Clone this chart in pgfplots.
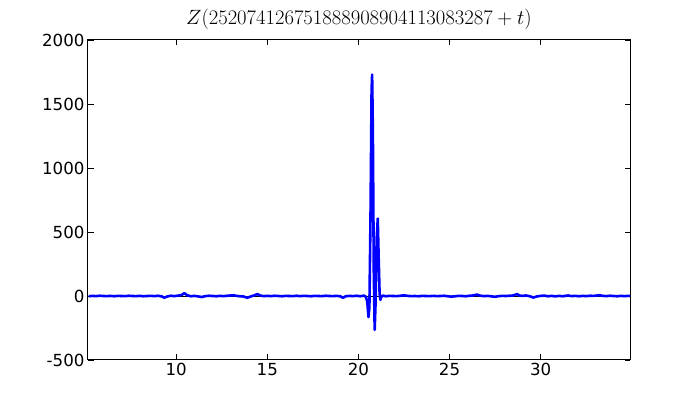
\documentclass[border=0pt]{standalone}
\usepackage{fontspec}
\setmainfont{DejaVu Sans}
\usepackage{pgfplots}
\pgfplotsset{compat=1.18}
\begin{document}
\begin{tikzpicture}
\begin{axis}[name=ax, scale only axis, width=542bp, height=320bp,
  xmin=5.16, xmax=34.9, ymin=-500, ymax=2000,
  xtick={10,15,20,25,30}, ytick={-500,0,500,1000,1500,2000},
  tick align=inside, major tick length=5.5bp,
  tick style={black, line width=0.8bp},
  axis line style={line width=1bp},
  xtick pos=both, ytick pos=both,
  ticklabel style={font=\fontsize{16.7}{20}\selectfont},
  /pgf/number format/assume math mode=true,
  /pgf/number format/set thousands separator={},
  title={$Z(252074126751888908904113083287+t)$},
  title style={font=\fontsize{19.8}{23}\selectfont, at={(0.5,1)}, anchor=south, yshift=1bp},
]
\addplot[black, line width=0.9bp] coordinates {(5.16,0) (34.9,0)};
\addplot[blue, line width=2.6bp, line join=round] coordinates {
(5.2,-2) (5.4,1) (5.6,-1) (5.8,2) (6.0,0) (6.2,-1) (6.4,1) (6.6,-2) (6.8,1) (7.0,0)
(7.2,-1) (7.4,2) (7.6,0) (7.8,-1) (8.0,1) (8.2,-2) (8.4,0) (8.6,1) (8.8,-1) (9.0,2)
(9.2,-3) (9.35,-13) (9.5,-4) (9.7,2) (9.9,-1) (10.1,3) (10.3,8) (10.45,22) (10.6,6) (10.8,-2)
(11.0,1) (11.2,-3) (11.4,-8) (11.6,-1) (11.8,2) (12.0,0) (12.2,-2) (12.4,1) (12.6,-1) (12.8,2)
(13.0,4) (13.15,6) (13.3,1) (13.5,-2) (13.7,-4) (13.9,-14) (14.1,-3) (14.3,5) (14.45,16) (14.6,4)
(14.8,-1) (15.0,1) (15.2,-1) (15.4,2) (15.6,0) (15.8,-2) (16.0,1) (16.2,0) (16.4,-1) (16.6,2)
(16.8,-1) (17.0,1) (17.2,0) (17.4,-2) (17.6,1) (17.8,0) (18.0,-1) (18.2,2) (18.4,0) (18.6,-1)
(18.8,1) (19.0,-2) (19.15,-14) (19.3,-2) (19.5,1) (19.7,-1) (19.9,2) (20.1,-2) (20.3,3) (20.4,-5)
(20.48,-40) (20.55,-165) (20.6,-90) (20.66,600) (20.72,1600) (20.75,1730) (20.79,1300) (20.84,200) (20.89,-265) (20.94,-50)
(21.0,450) (21.06,605) (21.1,350) (21.16,20) (21.2,-30) (21.26,-5) (21.35,3) (21.5,-2) (21.7,1) (21.9,0)
(22.1,-1) (22.3,2) (22.5,5) (22.7,1) (22.9,-1) (23.1,0) (23.3,-2) (23.5,1) (23.7,0) (23.9,-1)
(24.1,1) (24.3,-1) (24.5,0) (24.7,2) (24.9,-2) (25.1,-5) (25.3,-2) (25.5,1) (25.7,0) (25.9,-2)
(26.1,2) (26.3,4) (26.5,11) (26.7,2) (26.9,-1) (27.1,1) (27.3,-3) (27.5,-6) (27.7,-1) (27.9,1)
(28.1,0) (28.3,2) (28.5,4) (28.7,15) (28.85,3) (29.0,1) (29.2,4) (29.4,-2) (29.6,-12) (29.8,-3)
(30.0,1) (30.2,3) (30.4,-2) (30.6,1) (30.8,-3) (31.0,1) (31.2,-2) (31.4,2) (31.5,4) (31.7,-1)
(31.9,1) (32.1,-2) (32.3,1) (32.5,-1) (32.7,2) (32.9,1) (33.1,4) (33.2,7) (33.4,1) (33.6,-1)
(33.8,2) (34.0,0) (34.2,-2) (34.4,1) (34.6,-1) (34.8,1) (34.9,0)
};
\end{axis}
\path[use as bounding box] ([shift={(-88bp,-40bp)}]ax.south west) rectangle ([shift={(70bp,40bp)}]ax.north east);
\end{tikzpicture}
\end{document}
